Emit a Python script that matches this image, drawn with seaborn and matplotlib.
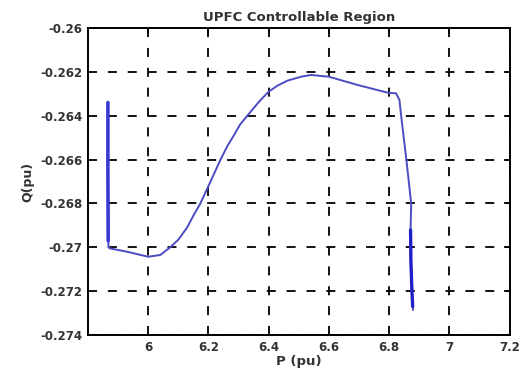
import matplotlib
matplotlib.use("Agg")
import matplotlib.pyplot as plt
import seaborn as sns
import pandas as pd

# Trajectory of the UPFC controllable region
P = [5.866, 5.866, 5.867, 5.868, 5.873, 5.929, 6.0, 6.04, 6.073, 6.10, 6.129,
     6.15, 6.173, 6.2, 6.22, 6.24, 6.262, 6.284, 6.305, 6.329, 6.35, 6.373, 6.4,
     6.43, 6.462, 6.507, 6.54, 6.6, 6.696, 6.796, 6.823, 6.834, 6.84, 6.857,
     6.873, 6.871, 6.872, 6.875, 6.879]
Q = [-0.26336, -0.2665, -0.2695, -0.2700, -0.27005, -0.2702, -0.27043, -0.27035,
     -0.2700, -0.26965, -0.2691, -0.26855, -0.2680, -0.2672, -0.2666, -0.2660,
     -0.2654, -0.2649, -0.2644, -0.2640, -0.26365, -0.26328, -0.2629, -0.26262,
     -0.2624, -0.26222, -0.26214, -0.26222, -0.2626, -0.26295, -0.26298, -0.26328,
     -0.26404, -0.2660, -0.2680, -0.26921, -0.27058, -0.27195, -0.27286]

# Heavier (overdrawn) vertical portions
P_left = [5.866, 5.866, 5.867]
Q_left = [-0.2634, -0.2665, -0.2697]
P_right = [6.871, 6.872, 6.875, 6.878]
Q_right = [-0.26921, -0.27058, -0.2718, -0.2727]

xticks = [6, 6.2, 6.4, 6.6, 6.8, 7, 7.2]
xtick_labels = ["6", "6.2", "6.4", "6.6", "6.8", "7", "7.2"]
yticks = [-0.274, -0.272, -0.27, -0.268, -0.266, -0.264, -0.262, -0.26]
ytick_labels = ["-0.274", "-0.272", "-0.27", "-0.268", "-0.266", "-0.264", "-0.262", "-0.26"]

sns.set_style("white")
plt.rcParams['font.family'] = ['DejaVu Sans']

fig = plt.figure(figsize=(5.19, 3.69), dpi=100)
ax = fig.add_axes([0.1696, 0.0921, 0.8124, 0.8319])

color = "#4b4bc4"
df = pd.DataFrame({"P": P, "Q": Q})
sns.lineplot(data=df, x="P", y="Q", sort=False, estimator=None, color=color, lw=1.4, ax=ax)
sns.lineplot(x=P_left, y=Q_left, sort=False, estimator=None, color="#3a3ad0", lw=2.6, ax=ax)
sns.lineplot(x=P_right, y=Q_right, sort=False, estimator=None, color="#2020c8", lw=2.4, ax=ax)

ax.set_xlim(5.8, 7.2)
ax.set_ylim(-0.274, -0.26)
ax.set_xticks(xticks)
ax.set_xticklabels(xtick_labels)
ax.set_yticks(yticks)
ax.set_yticklabels(ytick_labels)
ax.grid(True, color="black", linestyle=(0, (5, 6)), linewidth=1.3)
ax.tick_params(direction="in", length=4, width=1.2, labelsize=8.5, top=True, right=True,
               colors="black", pad=4)
for lab in ax.get_xticklabels() + ax.get_yticklabels():
    lab.set_fontweight("bold")
    lab.set_color("#333333")
for s in ax.spines.values():
    s.set_color("black")
    s.set_linewidth(1.4)

ax.set_title("UPFC Controllable Region", fontsize=9.5, fontweight="bold", color="#333333", pad=5)
ax.set_xlabel("P (pu)", fontsize=9.5, fontweight="bold", color="#333333", labelpad=1)
ax.set_ylabel("Q(pu)", fontsize=9, fontweight="bold", color="#333333", labelpad=4)

fig.savefig("out.png", dpi=100)
